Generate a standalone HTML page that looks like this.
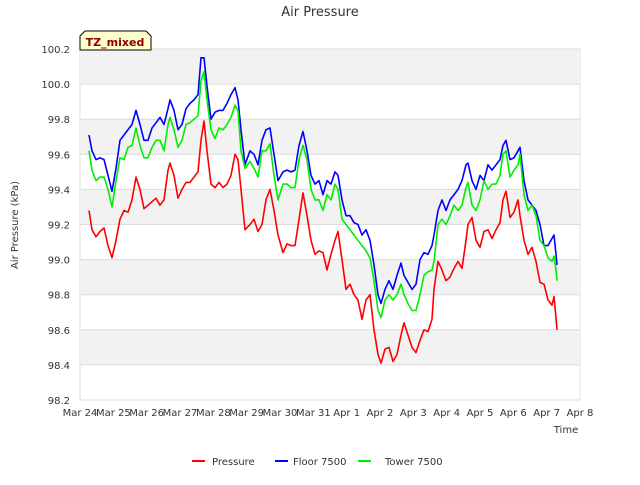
<!DOCTYPE html>
<html><head><meta charset="utf-8"><style>
body{margin:0;background:#fff;font-family:"Liberation Sans",sans-serif}
svg text{font-family:"DejaVu Sans","Liberation Sans",sans-serif}
</style></head><body>
<svg id="chart" width="640" height="480">
<rect x="80" y="49" width="500" height="351" fill="#fff" stroke="#e0e0e0"/>
<g id="bands"></g><g id="grid"></g><g id="ticks"></g><g id="series"></g>
<text x="320" y="16" text-anchor="middle" font-size="13" fill="#333">Air Pressure</text>
<text x="18" y="225" text-anchor="middle" font-size="10" fill="#333" transform="rotate(-90 18 225)">Air Pressure (kPa)</text>
<text x="566" y="433" text-anchor="middle" font-size="10" fill="#333">Time</text>
<g>
<path d="M80,50 L80,36 L85,31 L146,31 L151,36 L151,50 Z" fill="#ffffcc" stroke="#000" stroke-width="1"/>
<text x="115" y="46" text-anchor="middle" font-size="11" font-weight="bold" fill="#8b0000">TZ_mixed</text>
</g>
<g>
<g><line x1="192" y1="461" x2="205" y2="461" stroke="#ff0000" stroke-width="2"/><text x="212" y="465" font-size="10" fill="#333">Pressure</text></g>
<g><line x1="275" y1="461" x2="288" y2="461" stroke="#0000ff" stroke-width="2"/><text x="293" y="465" font-size="10" fill="#333">Floor 7500</text></g>
<g><line x1="358" y1="461" x2="371" y2="461" stroke="#00ee00" stroke-width="2"/><text x="385" y="465" font-size="10" fill="#333">Tower 7500</text></g>
</g>
</svg>
<script>
const xTickLabels=["Mar 24","Mar 25","Mar 26","Mar 27","Mar 28","Mar 29","Mar 30","Mar 31","Apr 1","Apr 2","Apr 3","Apr 4","Apr 5","Apr 6","Apr 7","Apr 8"];
const yTicks=[98.2,98.4,98.6,98.8,99.0,99.2,99.4,99.6,99.8,100.0,100.2];
const times=[0.27,0.36,0.48,0.60,0.72,0.84,0.96,1.08,1.20,1.32,1.44,1.56,1.68,1.80,1.92,2.04,2.16,2.28,2.40,2.52,2.64,2.70,2.82,2.94,3.06,3.18,3.30,3.42,3.54,3.63,3.72,3.81,3.93,4.05,4.17,4.29,4.41,4.53,4.65,4.74,4.83,4.95,5.10,5.22,5.34,5.46,5.58,5.70,5.82,5.94,6.09,6.21,6.33,6.45,6.57,6.69,6.81,6.93,7.05,7.17,7.29,7.41,7.53,7.65,7.74,7.86,7.98,8.10,8.22,8.34,8.46,8.58,8.70,8.82,8.94,9.03,9.15,9.27,9.39,9.51,9.63,9.72,9.84,9.96,10.08,10.20,10.32,10.44,10.56,10.62,10.74,10.86,10.98,11.10,11.22,11.34,11.46,11.58,11.64,11.76,11.88,12.00,12.12,12.24,12.36,12.48,12.60,12.69,12.78,12.90,13.02,13.14,13.20,13.32,13.44,13.56,13.68,13.80,13.92,14.04,14.16,14.22,14.28,14.31];
const pressure=[99.28,99.17,99.13,99.16,99.18,99.08,99.01,99.11,99.23,99.28,99.27,99.34,99.47,99.40,99.29,99.31,99.33,99.35,99.31,99.34,99.51,99.55,99.48,99.35,99.40,99.44,99.44,99.47,99.50,99.68,99.79,99.62,99.43,99.41,99.44,99.41,99.43,99.48,99.60,99.57,99.40,99.17,99.20,99.23,99.16,99.20,99.34,99.40,99.28,99.14,99.04,99.09,99.08,99.08,99.23,99.38,99.25,99.11,99.03,99.05,99.04,98.94,99.03,99.11,99.16,99.00,98.83,98.86,98.80,98.77,98.66,98.77,98.80,98.60,98.46,98.41,98.49,98.50,98.42,98.46,98.57,98.64,98.57,98.50,98.47,98.54,98.60,98.59,98.66,98.83,98.99,98.94,98.88,98.90,98.95,98.99,98.95,99.11,99.20,99.24,99.11,99.07,99.16,99.17,99.12,99.17,99.21,99.34,99.39,99.24,99.27,99.34,99.25,99.11,99.03,99.07,98.99,98.87,98.86,98.77,98.74,98.79,98.67,98.60];
const floor7500=[99.71,99.62,99.57,99.58,99.57,99.48,99.39,99.52,99.68,99.71,99.74,99.77,99.85,99.77,99.68,99.68,99.75,99.78,99.81,99.77,99.86,99.91,99.85,99.74,99.77,99.86,99.89,99.91,99.94,100.15,100.15,99.99,99.80,99.84,99.85,99.85,99.89,99.94,99.98,99.91,99.74,99.54,99.62,99.60,99.54,99.68,99.74,99.75,99.60,99.45,99.50,99.51,99.50,99.51,99.65,99.73,99.62,99.48,99.43,99.45,99.37,99.45,99.43,99.50,99.48,99.34,99.25,99.25,99.21,99.20,99.14,99.17,99.11,98.97,98.80,98.75,98.83,98.88,98.83,98.91,98.98,98.91,98.87,98.83,98.86,99.00,99.04,99.03,99.08,99.14,99.28,99.34,99.28,99.34,99.37,99.40,99.45,99.54,99.55,99.45,99.40,99.48,99.45,99.54,99.51,99.54,99.57,99.65,99.68,99.57,99.58,99.62,99.64,99.45,99.34,99.31,99.28,99.20,99.08,99.08,99.12,99.14,99.03,98.97];
const tower7500=[99.62,99.51,99.45,99.47,99.47,99.40,99.30,99.45,99.58,99.57,99.64,99.65,99.75,99.65,99.58,99.58,99.64,99.68,99.68,99.62,99.77,99.81,99.74,99.64,99.68,99.77,99.78,99.80,99.82,100.02,100.07,99.91,99.74,99.69,99.75,99.74,99.77,99.81,99.88,99.85,99.62,99.52,99.56,99.52,99.47,99.62,99.62,99.66,99.48,99.34,99.43,99.43,99.41,99.41,99.57,99.65,99.57,99.40,99.34,99.34,99.28,99.37,99.34,99.43,99.40,99.23,99.20,99.17,99.14,99.11,99.08,99.05,99.01,98.88,98.71,98.67,98.77,98.80,98.77,98.80,98.86,98.80,98.75,98.71,98.71,98.80,98.91,98.93,98.94,98.99,99.20,99.23,99.20,99.25,99.31,99.28,99.31,99.41,99.44,99.31,99.28,99.34,99.45,99.40,99.43,99.43,99.48,99.60,99.62,99.47,99.51,99.54,99.60,99.37,99.28,99.31,99.25,99.11,99.08,99.01,98.99,99.02,98.94,98.88];

const X0=80,X1=580,Y0=400,Y1=49,YMIN=98.2,YMAX=100.2,DAYS=15;
const xs=d=>X0+(d/DAYS)*(X1-X0);
const ys=v=>Y0-(v-YMIN)/(YMAX-YMIN)*(Y0-Y1);
const NS="http://www.w3.org/2000/svg";
function mk(tag,attrs,parent){const e=document.createElementNS(NS,tag);for(const k in attrs)e.setAttribute(k,attrs[k]);document.getElementById(parent).appendChild(e);return e;}
for(let i=0;i<yTicks.length-1;i++){
 if(i%2===1){const r=mk('rect',{x:X0,y:ys(yTicks[i+1]),width:X1-X0,height:ys(yTicks[i])-ys(yTicks[i+1]),fill:'#f2f2f2'},'bands');
 
 }
}
yTicks.forEach(v=>{
 const y=ys(v);
 const l=mk('line',{x1:X0,x2:X1,y1:y,y2:y,stroke:'#dcdcdc','stroke-width':1},'grid');
 
 
 const t=mk('text',{x:70,y:y+4,'text-anchor':'end','font-size':10,fill:'#333'},'ticks');
 t.textContent=v.toFixed(1);
 
 
});
xTickLabels.forEach((s,i)=>{
 const x=xs(i);
 const t=mk('text',{x:x,y:416,'text-anchor':'middle','font-size':10,fill:'#333'},'ticks');
 t.textContent=s;
 
 
});
function line(vals,color,name){
 const d=vals.map((v,i)=>(i?'L':'M')+xs(times[i]).toFixed(1)+','+ys(v).toFixed(1)).join(' ');
 const p=mk('path',{d:d,fill:'none',stroke:color,'stroke-width':1.6,'stroke-linejoin':'round'},'series');
 
 
}
line(pressure,'#ff0000','pressure-line');
line(floor7500,'#0000ff','floor-7500-line');
line(tower7500,'#00ee00','tower-7500-line');
</script>
</body></html>
